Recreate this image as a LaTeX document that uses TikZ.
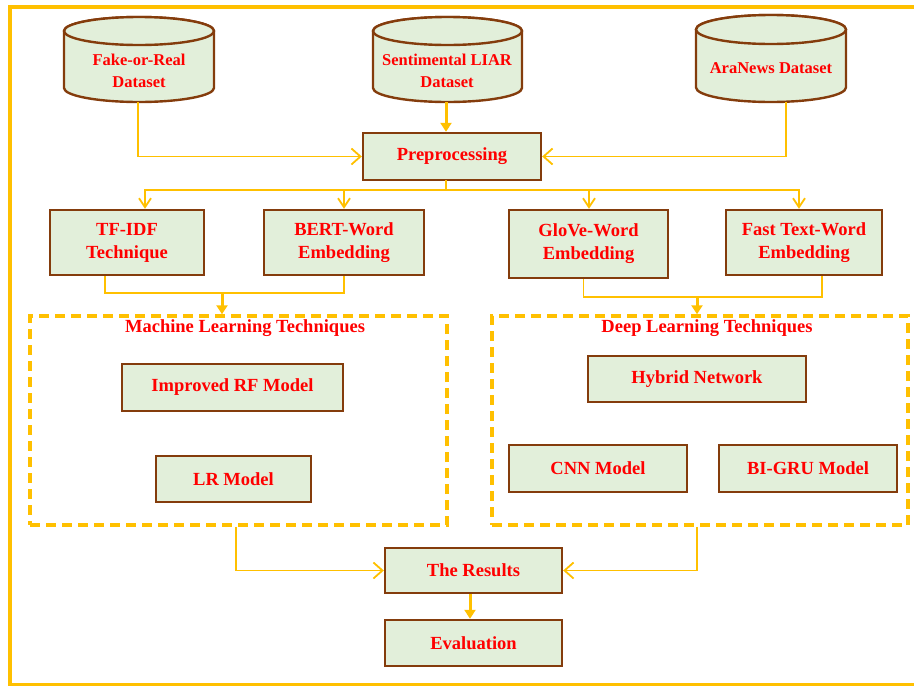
\documentclass[tikz,border=0pt]{standalone}
\usepackage{fontspec}
\setmainfont{Liberation Serif}
\usetikzlibrary{arrows.meta}
\definecolor{frameor}{HTML}{FFC000}
\definecolor{boxfill}{HTML}{E2EFDA}
\definecolor{boxline}{HTML}{843C0C}
\definecolor{txtred}{HTML}{FF0000}
\tikzset{
  boxnode/.style={draw=boxline, line width=2.4pt, fill=boxfill, rectangle, inner sep=0pt,
    text=txtred, font=\fontsize{18.5}{23}\selectfont\bfseries, align=center},
  dbtext/.style={inner sep=0pt, text=txtred, font=\fontsize{16.5}{22}\selectfont\bfseries, align=center},
  cylshape/.style={draw=boxline, line width=2.4pt, fill=boxfill},
  dashbox/.style={draw=frameor, line width=3.5pt, dash pattern=on 10pt off 6pt, rectangle, inner sep=0pt},
  grptitle/.style={inner sep=0pt, text=txtred, font=\fontsize{18.5}{23}\selectfont\bfseries},
  conn/.style={draw=frameor, line width=1.8pt},
  openarr/.style={conn, -{Straight Barb[length=9pt,width=16pt,line width=1.8pt]}},
  downarr/.style={conn, -{Straight Barb[length=9pt,width=12pt,line width=1.8pt]}},
  fillarr/.style={draw=frameor, line width=3pt, -{Triangle[length=9pt,width=11pt]}},
}
\begin{document}
\begin{tikzpicture}[x=1pt,y=-1pt]
\useasboundingbox (0,0) rectangle (914,686);
% outer frame
\draw[frameor, line width=4pt] (916,7) -- (10,7) -- (10,685) -- (916,685);

% cylinders
\filldraw[cylshape] (64,31) -- (64,88) arc[start angle=180,end angle=0,x radius=75,y radius=14] -- (214,31) arc[start angle=0,end angle=-180,x radius=75,y radius=14] -- cycle;
\draw[cylshape] (139,31) ellipse[x radius=75,y radius=14];
\filldraw[cylshape] (373,31) -- (373,88) arc[start angle=180,end angle=0,x radius=74.5,y radius=14] -- (522,31) arc[start angle=0,end angle=-180,x radius=74.5,y radius=14] -- cycle;
\draw[cylshape] (447.5,31) ellipse[x radius=74.5,y radius=14];
\filldraw[cylshape] (696,29.5) -- (696,87.5) arc[start angle=180,end angle=0,x radius=75,y radius=14.5] -- (846,29.5) arc[start angle=0,end angle=-180,x radius=75,y radius=14.5] -- cycle;
\draw[cylshape] (771,29.5) ellipse[x radius=75,y radius=14.5];

\node[dbtext] (fake) at (139,71) {Fake-or-Real\\Dataset};
\node[dbtext] (sent) at (447,71) {Sentimental LIAR\\Dataset};
\node[dbtext] (ara) at (771,68) {AraNews Dataset};
\coordinate (fakeb) at (138,102);
\coordinate (sentb) at (446,102);
\coordinate (arab) at (786,102);

% boxes
\node[boxnode, minimum width=178pt, minimum height=47pt] (pre) at (452,156.5) {Preprocessing};
\node[boxnode, minimum width=154pt, minimum height=65pt] (tfidf) at (127,242.5) {TF-IDF\\Technique};
\node[boxnode, minimum width=160pt, minimum height=65pt] (bert) at (344,242.5) {BERT-Word\\Embedding};
\node[boxnode, minimum width=159pt, minimum height=68pt] (glove) at (588.5,244) {GloVe-Word\\Embedding};
\node[boxnode, minimum width=156pt, minimum height=65pt] (fast) at (804,242.5) {Fast Text-Word\\Embedding};

\node[dashbox, minimum width=417pt, minimum height=209pt] (ml) at (238.5,420.5) {};
\node[dashbox, minimum width=416pt, minimum height=209pt] (dl) at (700,420.5) {};
\node[grptitle] (mlt) at (245,328) {Machine Learning Techniques};
\node[grptitle] (dlt) at (707,328) {Deep Learning Techniques};

\node[boxnode, minimum width=221pt, minimum height=47pt] (rf) at (232.5,387.5) {Improved RF Model};
\node[boxnode, minimum width=155pt, minimum height=46pt] (lr) at (233.5,479) {LR Model};
\node[boxnode, minimum width=218pt, minimum height=46pt] (hyb) at (697,379) {Hybrid Network};
\node[boxnode, minimum width=178pt, minimum height=47pt] (cnn) at (598,468.5) {CNN Model};
\node[boxnode, minimum width=178pt, minimum height=47pt] (bigru) at (808,468.5) {BI-GRU Model};

\node[boxnode, minimum width=177pt, minimum height=45pt] (res) at (473.5,570.5) {The Results};
\node[boxnode, minimum width=177pt, minimum height=46pt] (eval) at (473.5,643) {Evaluation};

% connectors
\draw[openarr] (fakeb) |- (pre.west);
\draw[openarr] (arab) |- (pre.east);
\draw[fillarr] (sentb) -- (sentb |- pre.north);

\coordinate (split) at (446,190);
\draw[conn] (446,180) -- (split);
\draw[downarr] (split) -| ([xshift=18pt]tfidf.north);
\draw[downarr] (split) -| (bert.north);
\draw[downarr] (split) -| ([xshift=0.5pt]glove.north);
\draw[downarr] (split) -| ([xshift=-5pt]fast.north);

\coordinate (mlin) at (222,293);
\draw[conn] ([xshift=-22pt]tfidf.south) |- (mlin) -| (bert.south);
\draw[fillarr] (mlin) -- (mlin |- ml.north);
\coordinate (dlin) at (697,297);
\draw[conn] ([xshift=-5pt]glove.south) |- (dlin) -| ([xshift=18pt]fast.south);
\draw[fillarr] (dlin) -- (dlin |- dl.north);

\draw[openarr] ([xshift=-2.5pt]ml.south) |- (res.west);
\draw[openarr] ([xshift=-3pt]dl.south) |- (res.east);
\draw[fillarr] ([xshift=-3.5pt]res.south) -- ([xshift=-3.5pt]eval.north);
\end{tikzpicture}
\end{document}
